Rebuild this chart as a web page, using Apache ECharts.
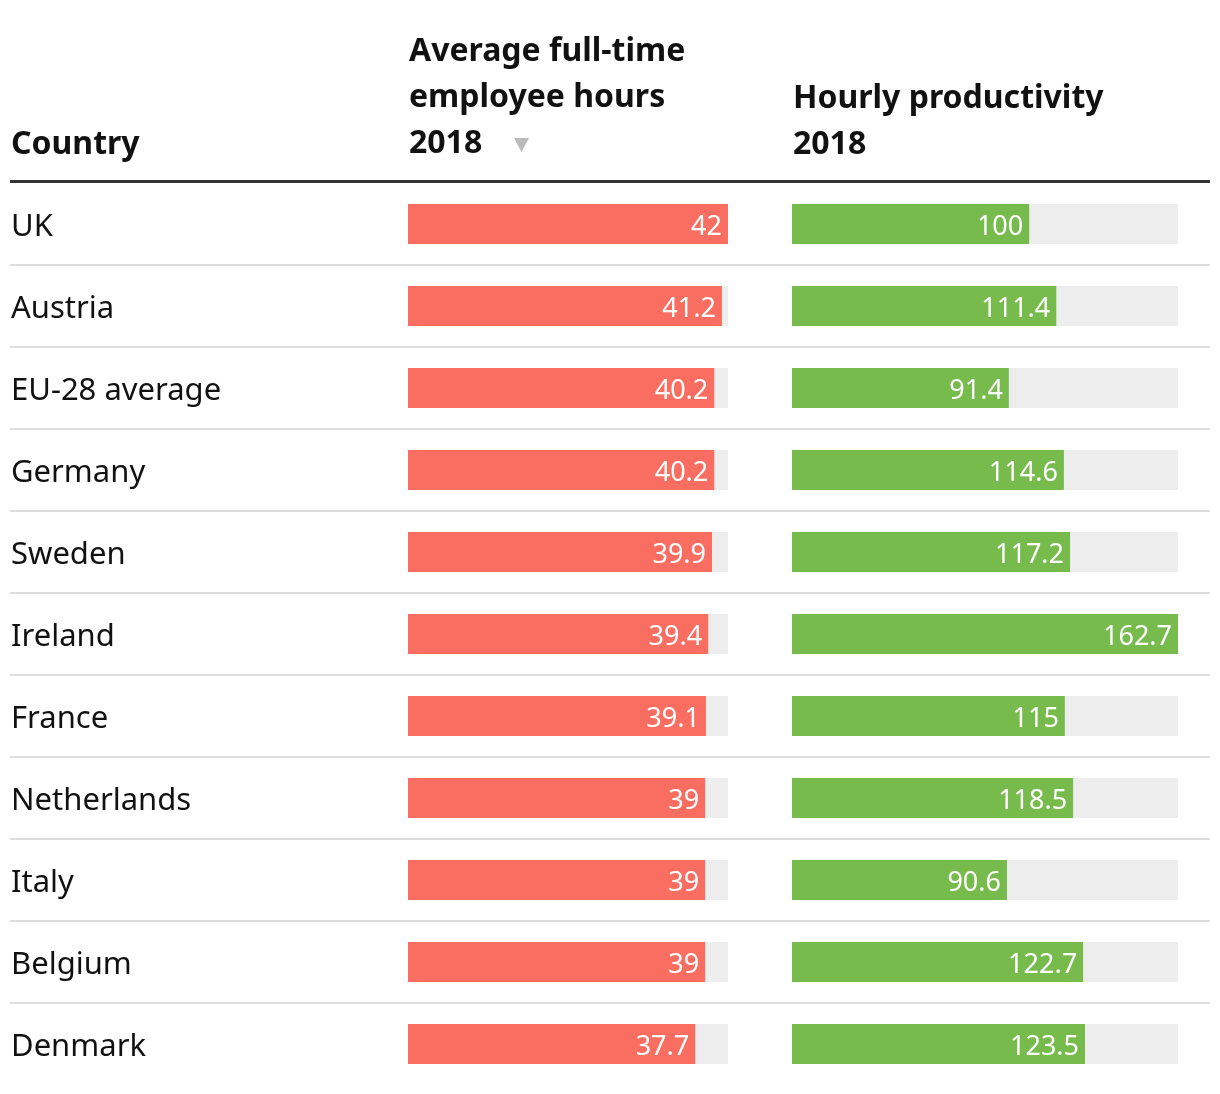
<!DOCTYPE html>
<html><head><meta charset="utf-8">
<script src="https://cdn.jsdelivr.net/npm/echarts@6/dist/echarts.min.js"></script>
<style>html,body{margin:0;padding:0;background:#fff}#c{width:1220px;height:1094px}</style>
</head><body><div id="c"></div>
<script>
const countries = ['UK','Austria','EU-28 average','Germany','Sweden','Ireland','France','Netherlands','Italy','Belgium','Denmark'];
const hours = [42,41.2,40.2,40.2,39.9,39.4,39.1,39,39,39,37.7];
const productivity = [100,111.4,91.4,114.6,117.2,162.7,115,118.5,90.6,122.7,123.5];
const headerCountry = 'Country';
const headerHours = ['Average full-time','employee hours','2018'];
const headerProd = ['Hourly productivity','2018'];

const FONT = '"Noto Sans", sans-serif';
const TOP = 183, ROW = 82;
const chart = echarts.init(document.getElementById('c'));

const HF = 'bold 32px '+FONT;
const graphics = [];
graphics.push({type:'text', left:11, top:143-14, style:{text:headerCountry, font:HF, fill:'#111'}});
headerHours.forEach((t,i)=>graphics.push({type:'text', left:409, top:50+46*i-14, style:{text:t, font:HF, fill:'#111'}}));
headerProd.forEach((t,i)=>graphics.push({type:'text', left:793, top:97+46*i-14, style:{text:t, font:HF, fill:'#111'}}));
graphics.push({type:'polygon', shape:{points:[[514,138],[529,138],[521.5,152]]}, style:{fill:'#bbbbbb'}});
graphics.push({type:'rect', shape:{x:10,y:180,width:1200,height:3}, style:{fill:'#333333'}});
for (let k=1;k<countries.length;k++){
  graphics.push({type:'rect', shape:{x:10,y:TOP+ROW*k-1,width:1200,height:2}, style:{fill:'#dddddd'}});
}

const lbl = {show:true, position:'insideRight', distance:6, color:'#fff', fontSize:27, fontFamily:FONT, offset:[0,3]};
chart.setOption({
  animation:false,
  graphic: graphics,
  grid:[
    {left:408, width:320, top:TOP, height:ROW*countries.length},
    {left:792, width:386, top:TOP, height:ROW*countries.length}
  ],
  xAxis:[
    {gridIndex:0, type:'value', min:0, max:42, show:false},
    {gridIndex:1, type:'value', min:0, max:162.7, show:false}
  ],
  yAxis:[
    {gridIndex:0, type:'category', data:countries, inverse:true, axisLine:{show:false}, axisTick:{show:false},
     axisLabel:{align:'left', margin:397, formatter:(v)=>'{a|'+v+'}',
       rich:{a:{color:'#111', fontSize:31, fontFamily:FONT, padding:[7,0,0,0]}}}},
    {gridIndex:1, type:'category', data:countries, inverse:true, show:false}
  ],
  series:[
    {type:'bar', xAxisIndex:0, yAxisIndex:0, data:hours, barWidth:40, itemStyle:{color:'#fa6e61'},
     showBackground:true, backgroundStyle:{color:'#ededed'}, label:lbl},
    {type:'bar', xAxisIndex:1, yAxisIndex:1, data:productivity, barWidth:40, itemStyle:{color:'#77bb4d'},
     showBackground:true, backgroundStyle:{color:'#ededed'}, label:lbl}
  ]
});
</script></body></html>
